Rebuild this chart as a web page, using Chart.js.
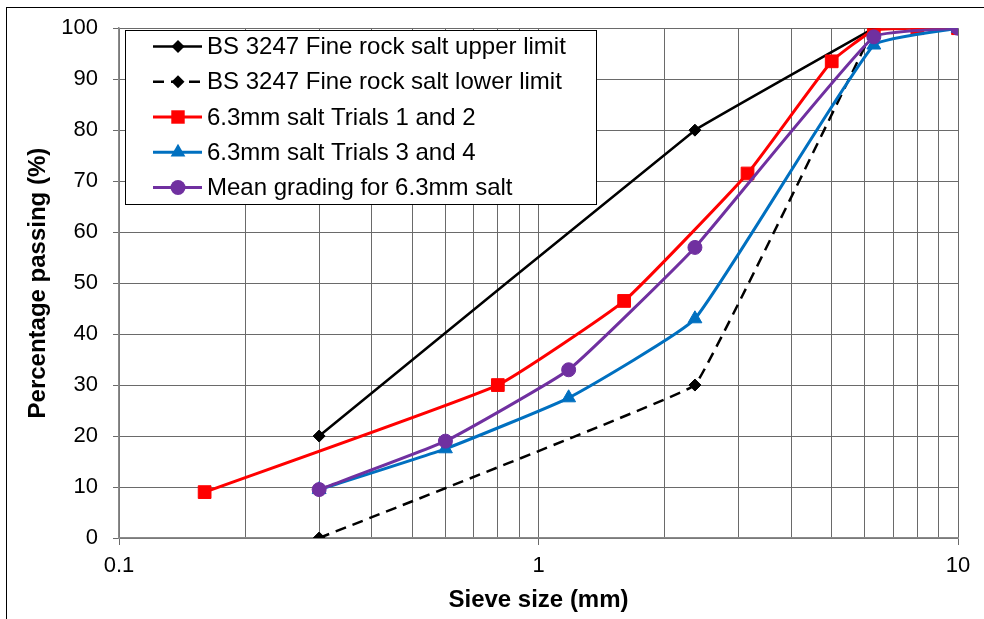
<!DOCTYPE html>
<html>
<head>
<meta charset="utf-8">
<script src="https://cdn.jsdelivr.net/npm/chart.js@4/dist/chart.umd.min.js"></script>
<style>
  html, body { margin: 0; padding: 0; background: #fff; }
  canvas { display: block; }
</style>
</head>
<body>
<canvas id="grading" width="984" height="619"></canvas>
<script>
// sieve sizes (mm) and percentage passing
const upperSize = [0.3, 2.36, 6.3];
const upperPass = [20, 80, 100];
const lowerSize = [0.3, 2.36, 6.3];
const lowerPass = [0, 30, 100];
const trials12Size = [0.16, 0.8, 1.6, 3.15, 5, 6.3, 8, 10];
const trials12Pass = [9, 30, 46.5, 71.5, 93.5, 99.6, 100, 100];
const trials34Size = [0.3, 0.6, 1.18, 2.36, 6.3, 10];
const trials34Pass = [9.5, 17.5, 27.5, 43, 96.7, 100];
const meanSize = [0.3, 0.6, 1.18, 2.36, 6.3, 10];
const meanPass = [9.5, 19, 33, 57, 98.3, 100];

const xGridValues = [0.1, 0.2, 0.3, 0.4, 0.5, 0.6, 0.7, 0.8, 0.9, 1, 2, 3, 4, 5, 6, 7, 8, 9, 10];
const xTickLabels = [0.1, 1, 10];

const seriesNames = [
    'BS 3247 Fine rock salt upper limit',
    'BS 3247 Fine rock salt lower limit',
    '6.3mm salt Trials 1 and 2',
    '6.3mm salt Trials 3 and 4',
    'Mean grading for 6.3mm salt'
];

function pts(xs, ys) {
    return xs.map((x, i) => ({ x: x, y: ys[i] }));
}

const FONT = '"Liberation Sans", Arial, sans-serif';
const gridCol = '#6a6a6a';

// legend box, axis titles and outer frame
const decorations = {
    id: 'decorations',
    afterDraw(chart) {
        const ctx = chart.ctx;
        const area = chart.chartArea;
        ctx.save();

        // frame
        ctx.strokeStyle = '#000';
        ctx.lineWidth = 1;
        ctx.strokeRect(6.5, 7.5, 1200, 1200);

        // axis titles
        ctx.fillStyle = '#000';
        ctx.font = 'bold 24px ' + FONT;
        ctx.textAlign = 'center';
        ctx.textBaseline = 'alphabetic';
        ctx.fillText('Sieve size (mm)', (area.left + area.right) / 2, 607);
        ctx.save();
        ctx.translate(45, (area.top + area.bottom) / 2);
        ctx.rotate(-Math.PI / 2);
        ctx.fillText('Percentage passing (%)', 0, 0);
        ctx.restore();

        // legend
        ctx.fillStyle = '#fff';
        ctx.fillRect(125, 30, 471, 174);
        ctx.strokeStyle = '#000';
        ctx.lineWidth = 1;
        ctx.strokeRect(125.5, 30.5, 471, 174);

        ctx.font = '24px ' + FONT;
        ctx.textAlign = 'left';
        ctx.textBaseline = 'middle';
        chart.data.datasets.forEach((ds, i) => {
            const y = 46.5 + i * 35.25;
            ctx.save();
            ctx.strokeStyle = ds.borderColor;
            ctx.lineWidth = ds.borderWidth;
            ctx.setLineDash(ds.borderDash || []);
            ctx.beginPath();
            ctx.moveTo(153, y);
            ctx.lineTo(202, y);
            ctx.stroke();
            ctx.restore();
            drawMarker(ctx, ds.pointStyle, 178, y, ds.pointRadius + 0.5, ds.pointBackgroundColor);
            ctx.fillStyle = '#000';
            ctx.fillText(ds.label, 207, y + 1);
        });
        ctx.restore();
    }
};

function drawMarker(ctx, style, x, y, r, color) {
    ctx.save();
    ctx.fillStyle = color;
    ctx.beginPath();
    if (style === 'rectRot') {
        ctx.moveTo(x, y - r);
        ctx.lineTo(x + r, y);
        ctx.lineTo(x, y + r);
        ctx.lineTo(x - r, y);
    } else if (style === 'rect') {
        const s = r * Math.SQRT1_2;
        ctx.rect(x - s, y - s, 2 * s, 2 * s);
    } else if (style === 'triangle') {
        for (let k = 0; k < 3; k++) {
            const a = k * 2 * Math.PI / 3;
            const px = x + Math.sin(a) * r, py = y - Math.cos(a) * r;
            if (k === 0) ctx.moveTo(px, py); else ctx.lineTo(px, py);
        }
    } else {
        ctx.arc(x, y, r, 0, Math.PI * 2);
    }
    ctx.closePath();
    ctx.fill();
    ctx.restore();
}

function series(label, data, color, style, radius, width, dash, tension, order) {
    return {
        label: label,
        data: data,
        borderColor: color,
        backgroundColor: color,
        pointBackgroundColor: color,
        pointBorderColor: color,
        pointBorderWidth: 1,
        pointStyle: style,
        pointRadius: radius,
        borderWidth: width,
        borderDash: dash,
        tension: tension,
        fill: false,
        order: order
    };
}

const chart = new Chart(document.getElementById('grading').getContext('2d'), {
    type: 'line',
    data: {
        datasets: [
            series(seriesNames[0], pts(upperSize, upperPass), '#000000', 'rectRot', 6, 2.5, [], 0.04, 5),
            series(seriesNames[1], pts(lowerSize, lowerPass), '#000000', 'rectRot', 6, 2.5, [11, 7], 0.04, 4),
            series(seriesNames[2], pts(trials12Size, trials12Pass), '#FF0000', 'rect', 9, 3, [], 0.12, 3),
            series(seriesNames[3], pts(trials34Size, trials34Pass), '#0070C0', 'triangle', 8, 3, [], 0.12, 2),
            series(seriesNames[4], pts(meanSize, meanPass), '#7030A0', 'circle', 7, 3, [], 0.12, 1)
        ]
    },
    options: {
        responsive: false,
        animation: false,
        events: [],
        layout: { padding: { top: 26, right: 26, left: 0, bottom: 0 } },
        plugins: {
            legend: { display: false },
            tooltip: { enabled: false }
        },
        scales: {
            x: {
                type: 'logarithmic',
                min: 0.1,
                max: 10,
                afterBuildTicks: scale => { scale.ticks = xGridValues.map(v => ({ value: v })); },
                afterFit: scale => { scale.height = 81; },
                ticks: {
                    autoSkip: false,
                    maxRotation: 0,
                    padding: 8,
                    color: '#000',
                    font: { family: FONT, size: 22 },
                    callback: v => xTickLabels.includes(v) ? String(v) : ''
                },
                grid: {
                    color: gridCol,
                    lineWidth: 1,
                    tickLength: 7,
                    tickColor: c => (c.tick && xTickLabels.includes(c.tick.value)) ? gridCol : 'rgba(0,0,0,0)'
                },
                border: { color: '#8a8a8a', width: 1.5 }
            },
            y: {
                min: 0,
                max: 100,
                afterFit: scale => { scale.width = 119; },
                ticks: {
                    stepSize: 10,
                    padding: 15,
                    color: '#000',
                    font: { family: FONT, size: 22 }
                },
                grid: { color: gridCol, lineWidth: 1, tickLength: 6, tickColor: gridCol },
                border: { color: '#8a8a8a', width: 1.5 }
            }
        }
    },
    plugins: [decorations]
});
</script>
</body>
</html>
